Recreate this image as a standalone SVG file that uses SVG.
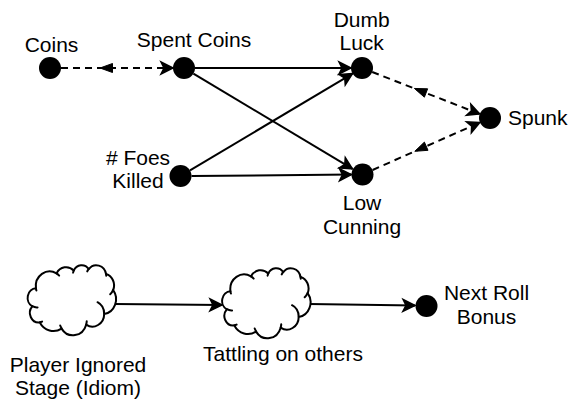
<svg xmlns="http://www.w3.org/2000/svg" xmlns:xlink="http://www.w3.org/1999/xlink" width="576" height="402" viewBox="0 0 576 402">
<style>
text{font-family:"Liberation Sans",Arial,sans-serif;font-size:21px;fill:#000}
.c{text-anchor:middle}
.n{fill:#000}
.e{fill:none;stroke:#000;stroke-width:2}
.d{stroke-dasharray:7 5}
.tri{fill:#000;stroke:#000;stroke-width:1}
.cloud{fill:#fff;stroke:#000;stroke-width:2;stroke-linejoin:round}
.curl{fill:none;stroke:#000;stroke-width:2;stroke-linecap:round}
</style>
<defs>
<marker id="cl" markerUnits="userSpaceOnUse" viewBox="-15 -8 17 16" refX="0" refY="0" markerWidth="17" markerHeight="16" orient="auto">
<path d="M0,0 L-12,-6 L-9,0 L-12,6 Z" fill="#000" stroke="#000" stroke-width="1.5" stroke-linejoin="miter"/>
</marker>
<g id="cloudShape">
<path class="cloud" d="M7.944,23.285 A13.756,14.891 0 0 1 28.528,8.429 A10.864,11.775 0 0 1 45.744,5.557 A8.892,9.633 0 0 1 60.772,4.014 A9.894,10.686 0 0 1 78.055,9.032 A10.864,11.785 0 0 1 85.185,25.047 A13.801,14.940 0 0 1 76.191,48.934 A11.784,12.748 0 0 1 58.168,59.645 A13.754,14.932 0 0 1 33.573,63.624 A15.726,17.084 0 0 1 11.823,57.474 A8.881,9.590 0 0 1 4.304,41.397 A8.851,9.633 0 0 1 7.944,23.285 Z"/>
<path class="curl" d="M9.560,42.417 A8.851,9.633 0 0 1 4.398,41.125 M14.112,56.550 A8.881,9.590 0 0 1 11.854,57.168 M33.566,63.342 A13.754,14.932 0 0 1 32.202,60.515 M58.722,56.310 A13.754,14.932 0 0 1 58.179,59.403 M69.522,37.195 A11.784,12.748 0 0 1 76.146,48.757 M85.144,24.880 A10.864,11.785 0 0 1 82.194,29.215 M78.067,8.792 A9.894,10.686 0 0 1 78.223,10.840 M59.233,6.404 A9.894,10.686 0 0 1 60.746,3.787 M45.102,7.648 A8.892,9.633 0 0 1 45.833,5.397 M28.518,8.413 A13.756,14.891 0 0 1 31.167,10.599 M8.407,25.584 A13.756,14.891 0 0 1 7.945,23.286"/>
</g>
</defs>

<g id="connectors">
<line class="e d" x1="61" y1="68" x2="173" y2="68" marker-end="url(#cl)"/>
<polygon class="tri" points="100,68 112.5,63.5 112.5,72.5"/>
<line class="e" x1="195" y1="68" x2="351" y2="68" marker-end="url(#cl)"/>
<line class="e" x1="193.4" y1="73.6" x2="352.5" y2="168.9" marker-end="url(#cl)"/>
<line class="e" x1="190" y1="170.4" x2="352.5" y2="73.6" marker-end="url(#cl)"/>
<line class="e" x1="191.5" y1="176" x2="351.5" y2="174.6" marker-end="url(#cl)"/>
<line class="e d" x1="372.2" y1="72" x2="479.8" y2="114" marker-end="url(#cl)"/>
<polygon class="tri" points="414.4,88.45 427.64,88.81 424.36,97.19"/>
<line class="e d" x1="372.6" y1="170" x2="479.9" y2="122.5" marker-end="url(#cl)"/>
<polygon class="tri" points="414.8,151.3 428,150.3 424.4,142.1"/>
<line class="e" x1="115" y1="304" x2="222" y2="305" marker-end="url(#cl)"/>
<line class="e" x1="309" y1="304" x2="415" y2="305.5" marker-end="url(#cl)"/>
</g>

<g id="coins"><circle class="n" cx="50" cy="68" r="11"/><text class="c" x="51.5" y="52">Coins</text></g>
<g id="spent-coins"><circle class="n" cx="184" cy="68" r="11"/><text class="c" x="194" y="47">Spent Coins</text></g>
<g id="foes-killed"><circle class="n" cx="180.5" cy="176" r="11"/><text class="c" x="138" y="165">
# Foes</text><text class="c" x="138" y="188">Killed</text></g>
<g id="dumb-luck"><circle class="n" cx="362" cy="68" r="11"/><text class="c" x="361.7" y="27">Dumb</text><text class="c" x="361.7" y="50">Luck</text></g>
<g id="low-cunning"><circle class="n" cx="362.5" cy="174.5" r="11"/><text class="c" x="362" y="210">Low</text><text class="c" x="362" y="233.5">Cunning</text></g>
<g id="spunk"><circle class="n" cx="490" cy="118" r="11"/><text x="508" y="125">Spunk</text></g>
<g id="player-ignored"><use xlink:href="#cloudShape" transform="translate(28,265)"/><text class="c" x="78" y="371.5">Player Ignored</text><text class="c" x="78" y="395">Stage (Idiom)</text></g>
<g id="tattling"><use xlink:href="#cloudShape" transform="translate(222.5,268)"/><text class="c" x="283" y="361">Tattling on others</text></g>
<g id="next-roll"><circle class="n" cx="426.5" cy="306" r="11"/><text class="c" x="486.5" y="300">Next Roll</text><text class="c" x="486.5" y="324">Bonus</text></g>
</svg>
